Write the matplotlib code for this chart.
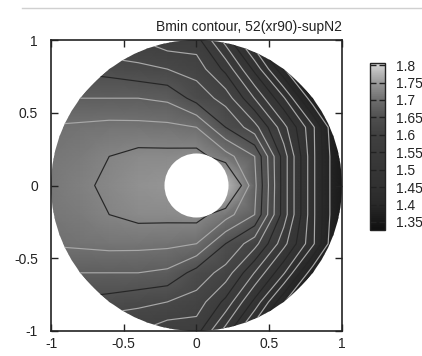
import numpy as np
import matplotlib
matplotlib.use("Agg")
import matplotlib.pyplot as plt
from matplotlib.colors import LinearSegmentedColormap
from matplotlib.patches import Circle
from matplotlib.lines import Line2D

plt.rcParams['font.family'] = ['Liberation Sans', 'DejaVu Sans']

# grid the field was read on (upper half, lower half mirrors it)
xs = [-1.0, -0.8, -0.6, -0.4, -0.2, 0.0, 0.2, 0.4, 0.6, 0.8, 1.0]
ys_upper = [0.0, 0.2, 0.4, 0.6, 0.8, 1.0]

# Bmin values, rows = y (0 -> 1), cols = x (-1 -> 1)
bmin_upper = [
    [1.712, 1.720, 1.730, 1.740, 1.745, 1.750, 1.778, 1.681, 1.5625, 1.456, 1.36],
    [1.710, 1.716, 1.725, 1.7325, 1.7325, 1.735, 1.7105, 1.675, 1.5625, 1.456, 1.36],
    [1.702, 1.705, 1.708, 1.7075, 1.706, 1.700, 1.650, 1.610, 1.5335, 1.455, 1.35],
    [1.680, 1.675, 1.675, 1.675, 1.670, 1.640, 1.615, 1.549, 1.478, 1.383, 1.31],
    [1.650, 1.645, 1.640, 1.632, 1.625, 1.615, 1.568, 1.493, 1.403, 1.320, 1.27],
    [1.620, 1.615, 1.600, 1.600, 1.585, 1.585, 1.515, 1.430, 1.340, 1.280, 1.24],
]

hole_radius = 0.22
cb_min, cb_max = 1.327, 1.806
cb_ticks = [1.35, 1.4, 1.45, 1.5, 1.55, 1.6, 1.65, 1.7, 1.75, 1.8]
cb_labels = ['1.35', '1.4', '1.45', '1.5', '1.55', '1.6', '1.65', '1.7', '1.75', '1.8']
contour_levels = [1.40, 1.425, 1.45, 1.475, 1.50, 1.525, 1.55, 1.575,
                  1.60, 1.625, 1.65, 1.675, 1.70, 1.725]
axis_ticks = [-1, -0.5, 0, 0.5, 1]
axis_labels = ['-1', '-0.5', '0', '0.5', '1']
title = 'Bmin contour, 52(xr90)-supN2'

# full grid: mirror the upper half
ys = [-y for y in ys_upper[:0:-1]] + ys_upper
Z = np.array(bmin_upper[:0:-1] + bmin_upper)
X, Y = np.meshgrid(xs, ys)

# scanned-looking gray palette (dark most of the way, light at the top)
def norm(v):
    return (v - cb_min) / (cb_max - cb_min)

stops = [(0.0, 0.06), (norm(1.40), 0.16), (norm(1.45), 0.19), (norm(1.50), 0.21),
         (norm(1.60), 0.25), (norm(1.65), 0.31), (norm(1.70), 0.43), (norm(1.75), 0.60),
         (1.0, 0.84)]
cmap = LinearSegmentedColormap.from_list('scan_gray', [(p, (g, g, g)) for p, g in stops])

fig = plt.figure(figsize=(4.22, 3.56), dpi=100)
ax = fig.add_axes([51 / 422, 25 / 356, 291 / 422, 291 / 356])

disk = Circle((0, 0), 1.0, transform=ax.transData)
mesh = ax.pcolormesh(X, Y, Z, shading='gouraud', cmap=cmap, vmin=cb_min, vmax=cb_max)
mesh.set_clip_path(disk)

line_colors = []
for lev in contour_levels:
    k = round((lev - 1.425) / 0.025)
    line_colors.append('#262626' if k % 3 == 0 else '#a8a8a8')
cs = ax.contour(X, Y, Z, levels=contour_levels, colors=line_colors, linewidths=0.85)
cs.set_clip_path(disk)

ax.add_patch(Circle((0, 0), hole_radius, facecolor='white', edgecolor='none', zorder=5))

ax.set_xlim(-1, 1)
ax.set_ylim(-1, 1)
ax.set_xticks(axis_ticks)
ax.set_xticklabels(axis_labels)
ax.set_yticks(axis_ticks)
ax.set_yticklabels(axis_labels)
ax.tick_params(direction='in', top=True, right=True, length=5, width=1,
               labelsize=10, colors='#222222')
ax.tick_params(axis='x', pad=4.5)
ax.tick_params(axis='y', pad=9.5)
for sp in ax.spines.values():
    sp.set_linewidth(1.2)
    sp.set_color('#222222')
    sp.set_zorder(6)

ax.text(1.0, 1.0 + 6 / 291, title, transform=ax.transAxes, ha='right', va='bottom',
        fontsize=10, color='#222222')

cax = fig.add_axes([370 / 422, 126 / 356, 15 / 422, 167 / 356])
cb = fig.colorbar(mesh, cax=cax, ticks=cb_ticks)
cb.set_ticklabels(cb_labels)
cb.outline.set_linewidth(1.0)
cb.outline.set_edgecolor('#222222')
cax.yaxis.set_ticks_position('both')
cax.tick_params(direction='in', length=4, width=1, labelsize=10, pad=8,
                left=True, right=True, labelleft=False, labelright=True, colors='#222222')

# faint rule at the top of the scanned page
fig.add_artist(Line2D([22 / 422, 1.0], [1 - 8 / 356, 1 - 8 / 356], transform=fig.transFigure,
                      color='#d0d0d0', lw=1))

fig.savefig('out.png', dpi=100)
